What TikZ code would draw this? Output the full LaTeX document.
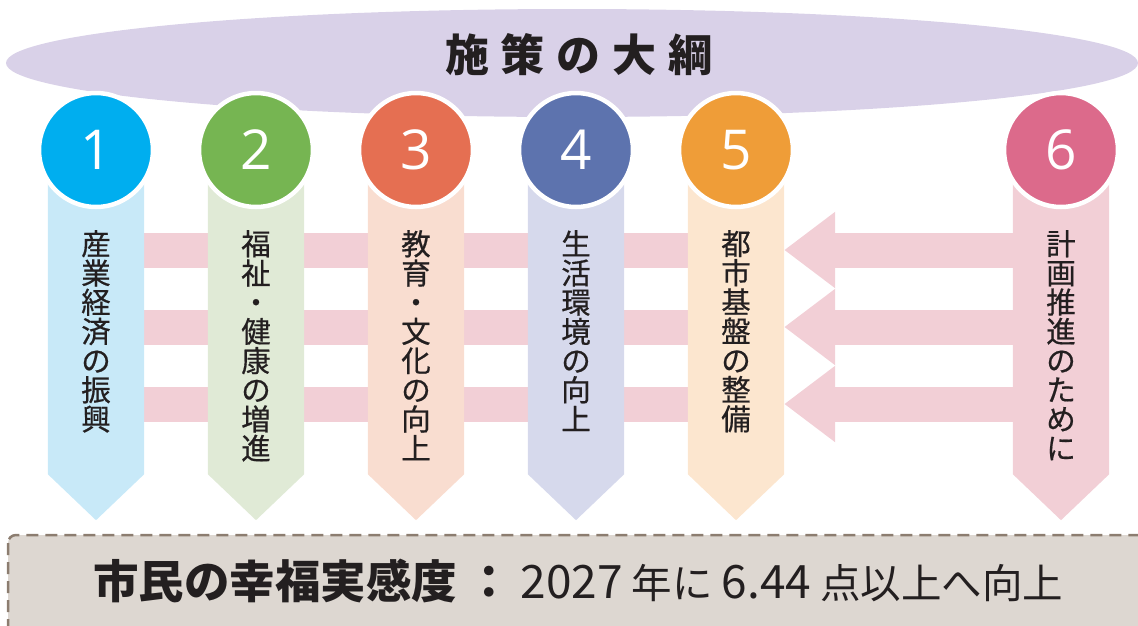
\documentclass[tikz,border=0pt]{standalone}
\usepackage{fontspec}
\newfontfamily\jp{Noto Sans CJK JP}
\newfontfamily\jpcol[FakeBold=0.5]{Noto Sans CJK JP}
\newfontfamily\numfont{Open Sans}
\usetikzlibrary{arrows.meta}
\definecolor{txt}{HTML}{231F20}
\definecolor{ellc}{HTML}{D9D1E8}
\definecolor{cA}{HTML}{00AEEF}\definecolor{lA}{HTML}{C8E9F8}
\definecolor{cB}{HTML}{76B552}\definecolor{lB}{HTML}{E0EAD6}
\definecolor{cC}{HTML}{E56F52}\definecolor{lC}{HTML}{F9DDD0}
\definecolor{cD}{HTML}{5D73AE}\definecolor{lD}{HTML}{D6D9EC}
\definecolor{cE}{HTML}{EF9D38}\definecolor{lE}{HTML}{FCE6CF}
\definecolor{cF}{HTML}{DC6A8B}\definecolor{lF}{HTML}{F2CFD6}
\definecolor{bandc}{HTML}{F2CFD6}
\definecolor{boxfill}{HTML}{DDD7D1}
\definecolor{boxline}{HTML}{8C7D70}
\newcommand{\bignum}[1]{{\fontsize{46}{46}\selectfont #1}}
\begin{document}
\begin{tikzpicture}[x=1pt,y=-1pt,
  colbox/.style={rectangle,inner sep=0pt,minimum width=96pt,minimum height=304pt},
  circ/.style={circle,inner sep=0pt,minimum size=114pt,draw=white,line width=4.5pt,
    text=white,font=\numfont\fontsize{55}{55}\selectfont},
  coltext/.style={anchor=north,align=center,inner sep=0pt,text=txt,
    font=\jpcol\fontsize{29.5}{29.2}\selectfont},
  band/.style={draw=bandc,line width=35pt},
  bandarrow/.style={band,-{Triangle[length=51pt,width=73pt]}}
]
\useasboundingbox (0,0) rectangle (1138,625);
\clip (0,0) rectangle (1138,625);
% ellipse
\fill[ellc] (572,63) ellipse [x radius=566, y radius=54];
\node[font=\jp\bfseries\fontsize{44}{44}\selectfont,text=txt] (title) at (579,55)
  {施\hspace{12pt}策\hspace{12pt}の\hspace{12pt}大\hspace{12pt}綱};
% column bodies (as nodes)
\foreach \i/\x in {1/96,2/256,3/416,4/576,5/736,6/1061}{
  \node[colbox] (col\i) at (\x,322) {};
}
% bands
\foreach \y [count=\k] in {250,327,404}{
  \coordinate (r\k) at (0,\y);
  \draw[band] (col1.center |- r\k) -- (col5.center |- r\k);
  \draw[bandarrow] (col6.center |- r\k) -- (col5.east |- r\k);
}
% columns drawn over bands
\foreach \i/\c in {1/lA,2/lB,3/lC,4/lD,5/lE,6/lF}{
  \fill[\c] (col\i.north west) -- (col\i.south west) -- ([yshift=-46pt]col\i.south)
    -- (col\i.south east) -- (col\i.north east) -- cycle;
}
% circles
\node[circ,fill=cA] (n1) at (96,150) {1};
\node[circ,fill=cB] (n2) at (256,150) {2};
\node[circ,fill=cC] (n3) at (416,150) {3};
\node[circ,fill=cD] (n4) at (576,150) {4};
\node[circ,fill=cE] (n5) at (736,150) {5};
\node[circ,fill=cF] (n6) at (1061,150) {6};
% column texts
\node[coltext] (t1) at (96,230) {産\\業\\経\\済\\の\\振\\興};
\node[coltext] (t2) at (256,230) {福\\祉\\・\\健\\康\\の\\増\\進};
\node[coltext] (t3) at (416,230) {教\\育\\・\\文\\化\\の\\向\\上};
\node[coltext] (t4) at (576,230) {生\\活\\環\\境\\の\\向\\上};
\node[coltext] (t5) at (736,230) {都\\市\\基\\盤\\の\\整\\備};
\node[coltext] (t6) at (1061,230) {計\\画\\推\\進\\の\\た\\め\\に};
% bottom box
\draw[fill=boxfill,draw=boxline,line width=2.5pt,dash pattern=on 12pt off 7pt,
  rounded corners=8pt] (8,535) rectangle (1170,680);
\node[anchor=west,inner sep=0pt,text=txt,font=\jp\fontsize{40.5}{40.5}\selectfont] (goal) at (93,581)
  {{\bfseries\fontsize{45.5}{45.5}\selectfont 市民の幸福実感度\hspace{9pt}：}\hspace{9pt}\bignum{2027} 年に \bignum{6.44} 点以上へ向上};
\end{tikzpicture}
\end{document}
